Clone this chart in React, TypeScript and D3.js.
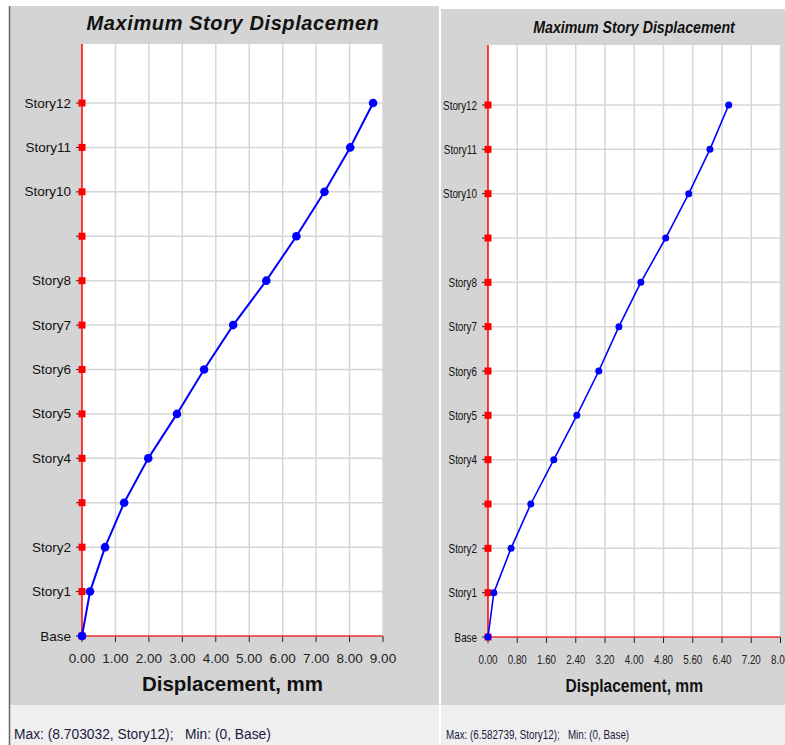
import React from 'react';
import * as d3 from 'd3';

const stories = ['Base', 'Story1', 'Story2', 'Story3', 'Story4', 'Story5', 'Story6', 'Story7', 'Story8', 'Story9', 'Story10', 'Story11', 'Story12'];
// Story3 and Story9 labels are not drawn in the source chart
const storyLabels = ['Base', 'Story1', 'Story2', '', 'Story4', 'Story5', 'Story6', 'Story7', 'Story8', '', 'Story10', 'Story11', 'Story12'];

const leftDisp = [0, 0.24, 0.69, 1.26, 1.98, 2.84, 3.65, 4.52, 5.51, 6.41, 7.25, 8.02, 8.703032];
const rightDisp = [0, 0.16, 0.63, 1.17, 1.8, 2.43, 3.03, 3.58, 4.18, 4.86, 5.49, 6.07, 6.582739];

const leftTicks = [0, 1, 2, 3, 4, 5, 6, 7, 8, 9];
const rightTicks = [0, 0.8, 1.6, 2.4, 3.2, 4.0, 4.8, 5.6, 6.4, 7.2, 8.0];

const leftFoot = 'Max: (8.703032, Story12);   Min: (0, Base)';
const rightFoot = 'Max: (6.582739, Story12);   Min: (0, Base)';

interface PanelProps {
  x0: number; x1: number; top: number; footTop: number;
  plotL: number; plotR: number; plotT: number; yBase: number; yTop: number;
  domainMax: number; ticks: number[]; values: number[];
  title: string; titleX: number; titleSpacing: number; foot: string; narrow: boolean;
  titleSize: number; tickSize: number; labelSize: number; axisSize: number; footSize: number;
  lineW: number; dotR: number;
}

function T({ x, y, narrow, children, ...rest }: any) {
  if (!narrow) return <text x={x} y={y} {...rest}>{children}</text>;
  return <text transform={`translate(${x},${y}) scale(0.82,1)`} {...rest}>{children}</text>;
}

function Panel(p: PanelProps) {
  const xs = d3.scaleLinear().domain([0, p.domainMax]).range([p.plotL, p.plotR]);
  const ys = d3.scaleLinear().domain([0, stories.length - 1]).range([p.yBase, p.yTop]);
  const line = d3.line<number>().x(d => xs(d)).y((d, i) => ys(i));
  const font = 'Liberation Sans, Arial, sans-serif';
  const midX = (p.plotL + p.plotR) / 2;
  return (
    <g fontFamily={font}>
      <rect x={p.x0} y={p.top} width={p.x1 - p.x0} height={p.footTop - p.top} fill="#d4d4d4" />
      <rect x={p.x0} y={p.footTop} width={p.x1 - p.x0} height={745 - p.footTop} fill="#efefef" />
      <T x={p.titleX} y={p.top + 24} narrow={p.narrow} textAnchor="middle" fontSize={p.titleSize}
        letterSpacing={p.titleSpacing} fontWeight="bold" fontStyle="italic" fill="#111">{p.title}</T>
      <rect x={p.plotL} y={p.plotT} width={p.plotR - p.plotL} height={p.yBase - p.plotT} fill="#fff" />
      {p.ticks.slice(1).map(t => (
        <line key={'gv' + t} x1={xs(t)} x2={xs(t)} y1={p.plotT} y2={p.yBase} stroke="#d6d6d6" strokeWidth={1.5} />
      ))}
      {stories.map((s, i) => i > 0 && (
        <line key={'gh' + s} x1={p.plotL} x2={p.plotR} y1={ys(i)} y2={ys(i)} stroke="#d6d6d6" strokeWidth={1.5} />
      ))}
      {p.ticks.map(t => (
        <g key={'xt' + t}>
          <line x1={xs(t)} x2={xs(t)} y1={p.yBase} y2={p.yBase + 6} stroke="#222" strokeWidth={1} />
          <T x={xs(t)} y={p.yBase + 27} narrow={p.narrow} textAnchor="middle" fontSize={p.tickSize} fill="#222">
            {t.toFixed(2)}
          </T>
        </g>
      ))}
      <line x1={p.plotL} x2={p.plotR} y1={p.yBase} y2={p.yBase} stroke="#f03030" strokeWidth={1.5} />
      <line x1={p.plotL} x2={p.plotL} y1={p.plotT} y2={p.yBase} stroke="#ff0000" strokeWidth={1.5} />
      {stories.map((s, i) => (
        <g key={'yt' + s}>
          <line x1={p.plotL - 6} x2={p.plotL} y1={ys(i)} y2={ys(i)} stroke="#222" strokeWidth={1} />
          <rect x={p.plotL - 3.5} y={ys(i) - 3.5} width={7} height={7} fill="#ff0000" />
          {storyLabels[i] && (
            <T x={p.plotL - 11} y={ys(i) + 4.5} narrow={p.narrow} textAnchor="end" fontSize={p.labelSize} fill="#111">
              {storyLabels[i]}
            </T>
          )}
        </g>
      ))}
      <path d={line(p.values) || ''} fill="none" stroke="#0000ff" strokeWidth={p.lineW} />
      {p.values.map((v, i) => (
        <circle key={'pt' + i} cx={xs(v)} cy={ys(i)} r={p.dotR} fill="#0000ff" />
      ))}
      <T x={midX} y={p.yBase + 55} narrow={p.narrow} textAnchor="middle" fontSize={p.axisSize} fontWeight="bold" fill="#111">
        Displacement, mm
      </T>
      <T x={p.x0 + 5} y={739} narrow={p.narrow} fontSize={p.footSize} fill="#1a1a40" style={{ whiteSpace: 'pre' }}>{p.foot}</T>
    </g>
  );
}

export default function App() {
  return (
    <svg width={785} height={745} style={{ position: 'absolute', left: 0, top: 0, display: 'block' }}>
      <rect width={785} height={745} fill="#fff" />
      <Panel x0={9} x1={439} top={6} footTop={705} plotL={82} plotR={383} plotT={44} yBase={636} yTop={103}
        domainMax={9} ticks={leftTicks} values={leftDisp} title="Maximum Story Displacemen" titleX={233} titleSpacing={0.6}
        foot={leftFoot} narrow={false} titleSize={20} tickSize={13.5} labelSize={13.5} axisSize={20.5} footSize={13.8}
        lineW={2} dotR={4.3} />
      <line x1={9.5} x2={9.5} y1={6} y2={745} stroke="#666" strokeWidth={1.5} />
      <Panel x0={441} x1={785} top={9} footTop={705} plotL={488} plotR={780.5} plotT={45} yBase={637} yTop={105}
        domainMax={8} ticks={rightTicks} values={rightDisp} title="Maximum Story Displacement" titleX={634} titleSpacing={0}
        foot={rightFoot} narrow={true} titleSize={17.3} tickSize={12} labelSize={12} axisSize={19} footSize={12}
        lineW={1.6} dotR={3.5} />
    </svg>
  );
}
